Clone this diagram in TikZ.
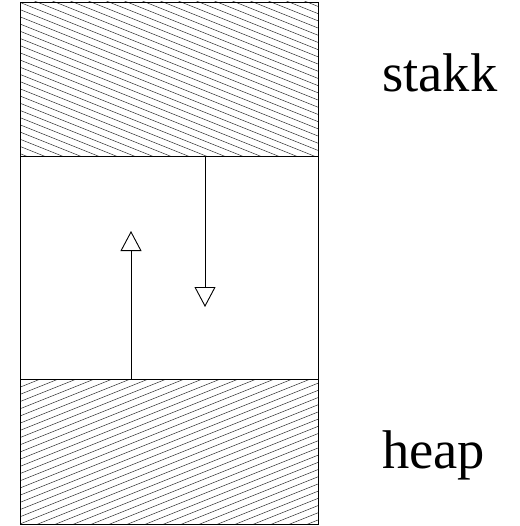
\documentclass[tikz,border=0pt]{standalone}
\usepackage{fontspec}
\setmainfont{Liberation Serif}
\usetikzlibrary{arrows.meta}
\tikzset{
  box/.style={draw=black, line width=0.9pt},
  hatch/.style={draw=black!80, line width=0.5pt},
  growarrow/.style={draw=black, line width=0.9pt, -{Triangle[open, width=21pt, length=20pt, line width=0.9pt]}},
  lbl/.style={anchor=base west, inner sep=0pt, font=\fontsize{54.5}{60}\selectfont}
}
\begin{document}
\begin{tikzpicture}[x=1pt, y=-1pt]
\useasboundingbox (0,0) rectangle (519,526);
% hatching, top (stack)
\begin{scope}
  \clip (20,2) rectangle (318,156);
  \foreach \c in {-120,-112.8,...,160} {
    \draw[hatch] (20,\c) -- (318,\c+119.2);
  }
\end{scope}
% hatching, bottom (heap)
\begin{scope}
  \clip (20,379) rectangle (318,524);
  \foreach \c in {380,387.2,...,660} {
    \draw[hatch] (20,\c) -- (318,\c-119.2);
  }
\end{scope}
% outline and dividers
\draw[box] (20,2) rectangle (318,524);
\coordinate (sl) at (20,156);
\coordinate (sr) at (318,156);
\coordinate (hl) at (20,379);
\coordinate (hr) at (318,379);
\draw[box] (sl) -- (sr);
\draw[box] (hl) -- (hr);
% arrows
\coordinate (sa) at (205,156);
\coordinate (se) at (205,307);
\coordinate (ha) at (131,379);
\coordinate (he) at (131,231);
\draw[growarrow] (sa) -- (se);
\draw[growarrow] (ha) -- (he);
% labels
\node[lbl] (stakk) at (382,92) {stakk};
\node[lbl] (heap) at (382,468) {heap};
\end{tikzpicture}
\end{document}
